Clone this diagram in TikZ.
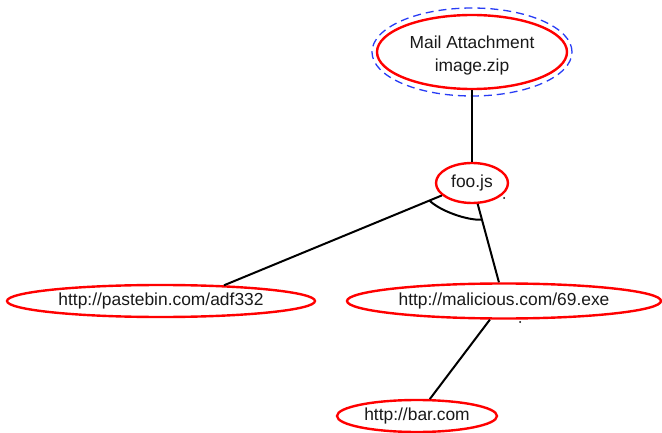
\documentclass[tikz,border=0pt]{standalone}
\usepackage{fontspec}
\setmainfont{Liberation Sans}
\usetikzlibrary{shapes.geometric,calc}
\begin{document}
\begin{tikzpicture}[x=1pt,y=-1pt,
  entity/.style={ellipse, draw=red, line width=2.4pt, inner sep=0pt,
    font=\fontsize{17.4}{22}\selectfont, text=black!90},
  link/.style={draw=black, line width=2pt},
  attach/.style={draw={rgb,255:red,40;green,60;blue,245}, line width=1.3pt,
    dash pattern=on 8pt off 5pt}]
\useasboundingbox (0,0) rectangle (662,433);

% entities
\node[entity, minimum width=190pt, minimum height=74pt] (mail) at (472,52)
  {\raisebox{-3.5pt}[\height][\depth]{\begin{tabular}{@{}c@{}}Mail Attachment\\[0.5pt]image.zip\end{tabular}}};
\node[entity, minimum width=72pt, minimum height=40pt] (foo) at (472,183) {foo.js};
\node[entity, minimum width=308pt, minimum height=32pt] (paste) at (161,301) {http://pastebin.com/adf332};
\node[entity, minimum width=314pt, minimum height=35pt] (mal) at (504,301) {http://malicious.com/69.exe};
\node[entity, minimum width=160pt, minimum height=32pt] (bar) at (417,416) {http://bar.com};

% selection ring round the attachment
\draw[attach] (mail.center) ellipse [x radius=100pt, y radius=44pt];

% links
\draw[link] (mail) -- (foo);
\draw[link] (foo) -- (paste.14);
\draw[link] (foo) -- (mal);
\draw[link] (mal) -- (bar);

% arc joining the two outgoing links of foo.js
\coordinate (j1) at ($(foo.center)!46pt!(paste.14)$);
\coordinate (j2) at ($(foo.center)!38pt!(mal.center)$);
\draw[link] (j1) .. controls ($(j1)+(10,10)$) and ($(j2)+(-15,1)$) .. (j2);

% small marks
\fill (504,198) circle (1pt);
\fill (520,322) circle (1pt);
\end{tikzpicture}
\end{document}
